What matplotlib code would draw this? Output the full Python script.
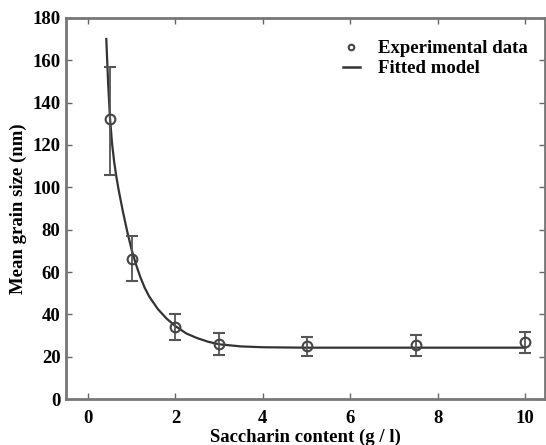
import numpy as np
import matplotlib
matplotlib.use('Agg')
import matplotlib.pyplot as plt
from matplotlib.lines import Line2D

plt.rcParams.update({'font.family': 'Liberation Serif', 'font.weight': 'bold',
                     'axes.labelweight': 'bold', 'font.size': 13.5})

# measured grain size vs saccharin concentration
sacch = [0.5, 1.0, 2.0, 3.0, 5.0, 7.5, 10.0]
grain = [132, 66, 34, 26, 25, 25.5, 26.8]
err_lo = [26, 10, 6, 5, 4.5, 5, 5]
err_hi = [25, 11, 6, 5, 4.5, 4.7, 5]

# fitted model curve
fit_x = [0.42, 0.46, 0.5, 0.55, 0.6, 0.65, 0.7, 0.8, 0.9, 1.0, 1.1, 1.2, 1.3, 1.4,
         1.6, 1.8, 2.0, 2.25, 2.5, 2.75, 3.0, 3.5, 4.0, 5.0, 6.0, 8.0, 10.0]
fit_y = [170, 150, 134, 121, 112, 105, 99, 88.5, 79, 70.5, 63.5, 57.5, 52.5, 48.5,
         42.5, 38, 34.5, 31, 28.8, 27.1, 25.9, 24.9, 24.5, 24.3, 24.3, 24.3, 24.3]

fig = plt.figure(figsize=(5.46, 4.45), dpi=100)
ax = fig.add_axes([0.121, 0.103, 0.877, 0.857])

ax.plot(fit_x, fit_y, color='#333333', lw=1.6, zorder=3)
ax.errorbar(sacch, grain, yerr=[err_lo, err_hi], fmt='o', ms=7, mfc='none',
            mec='#444444', mew=1.5, ecolor='#555555', elinewidth=1.3, capsize=4,
            capthick=1.3, zorder=4)

ax.set_xlim(-0.5, 10.45)
ax.set_ylim(0, 180)
ax.set_xticks([0, 2, 4, 6, 8, 10])
ax.set_yticks(range(0, 181, 20))
ax.tick_params(direction='in', length=4, width=1, color='#666666', top=True, right=True,
               labelsize=13.5)
ax.tick_params(axis='x', pad=8)
ax.tick_params(axis='y', pad=4)
for s in ax.spines.values():
    s.set_color('#777777')
    s.set_linewidth(2)
ax.set_xlabel('Saccharin content (g / l)', labelpad=1)
ax.set_ylabel('Mean grain size (nm)', labelpad=4)

handles = [Line2D([], [], marker='o', ls='none', ms=4, mfc='none', mec='#444444', mew=1.5),
           Line2D([], [], color='#333333', lw=1.8)]
ax.legend(handles, ['Experimental data', 'Fitted model'], loc='upper right',
          bbox_to_anchor=(1.012, 1.0), frameon=False,
          handlelength=0.9, handletextpad=1.0, borderaxespad=0.8, labelspacing=0.15,
          prop={'weight': 'bold', 'size': 13.5})

fig.savefig('out.png', dpi=100)
